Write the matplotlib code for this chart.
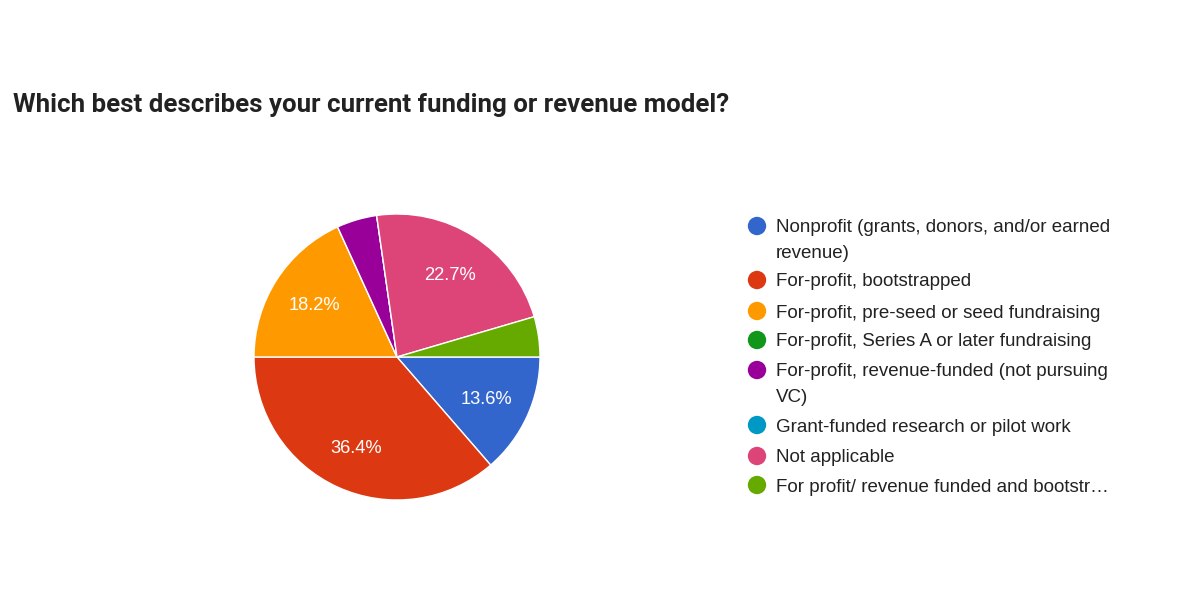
import matplotlib.pyplot as plt

# survey answers (22 responses)
labels = [
    "Nonprofit (grants, donors, and/or earned\nrevenue)",
    "For-profit, bootstrapped",
    "For-profit, pre-seed or seed fundraising",
    "For-profit, Series A or later fundraising",
    "For-profit, revenue-funded (not pursuing\nVC)",
    "Grant-funded research or pilot work",
    "Not applicable",
    "For profit/ revenue funded and bootstr\u2026",
]
counts = [3, 8, 4, 0, 1, 0, 5, 1]
colors = ["#3366cc", "#dc3912", "#ff9900", "#109618",
          "#990099", "#0099c6", "#dd4477", "#66aa00"]

W, H = 1192, 593
fig = plt.figure(figsize=(W / 100, H / 100), dpi=100)
fig.patch.set_facecolor("white")

fig.text(13 / W, 1 - 105 / H, "Which best describes your current funding or revenue model?",
         family="Roboto", weight="bold", fontsize=18.6, color="#222222", va="center")

# pie in its own square axes: center (397, 357), radius 143 px
cx, cy, r = 397, 357, 143
ax = fig.add_axes([(cx - r) / W, (H - cy - r) / H, 2 * r / W, 2 * r / H])

def pct(p):
    return f"{p:.1f}%" if p > 8 else ""

wedges, texts, autotexts = ax.pie(
    counts, colors=colors, startangle=0, counterclock=False, radius=1,
    autopct=pct, pctdistance=0.69,
    wedgeprops=dict(edgecolor="white", linewidth=1),
    textprops=dict(color="white", family="Liberation Sans", fontsize=13.2),
)
for t in autotexts:
    t.set_va("center_baseline")
ax.set_xlim(-1, 1)
ax.set_ylim(-1, 1)
ax.set_aspect("auto")
ax.axis("off")

# legend drawn in pixel coordinates
lg = fig.add_axes([0, 0, 1, 1])
lg.set_xlim(0, W)
lg.set_ylim(H, 0)
lg.axis("off")
row_y = [226, 280, 311, 340, 370, 425, 456, 485]
for y, lab, c in zip(row_y, labels, colors):
    lg.scatter([757], [y], s=175, color=c, edgecolors="none")
    for i, line in enumerate(lab.split("\n")):
        lg.text(776, y + 26 * i, line, va="center_baseline", ha="left",
                family="Liberation Sans", fontsize=13.5, color="#222222")

fig.savefig("out.png", dpi=100, facecolor="white")
